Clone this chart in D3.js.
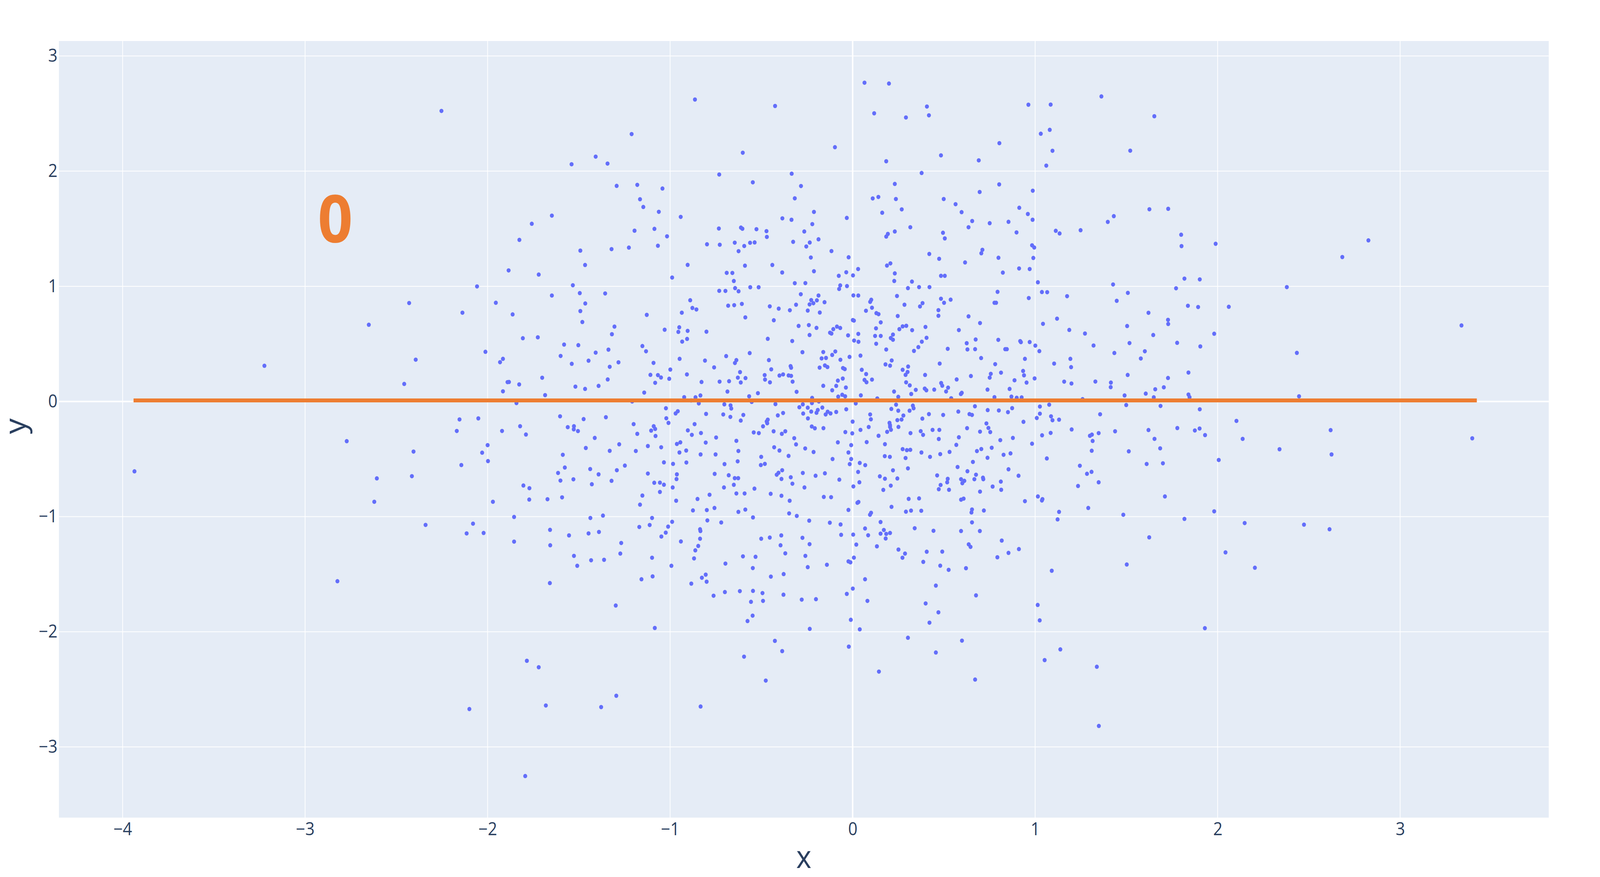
<!DOCTYPE html>
<html>
<head>
<meta charset="utf-8">
<script src="https://cdn.jsdelivr.net/npm/d3@7"></script>
<style>
  html, body { margin: 0; height: 100%; background: #fff; overflow: hidden; }
  #vis, svg { display: block; width: 100%; height: 100%; }
  text { font-family: "Open Sans", sans-serif; }
</style>
</head>
<body>
<div id="vis"></div>
<script>
const xTicks = [-4, -3, -2, -1, 0, 1, 2, 3]
const yTicks = [-3, -2, -1, 0, 1, 2, 3]
const xRange = [-4.349, 3.814]
const yRange = [-3.614, 3.130]

const lineX = [-3.94, 3.42]
const lineY = [0.009, 0.009]
const frameLabel = { text: "0", x: -2.835, y: 1.604 }

// scatter values, [x, y], grouped by region
const topLeft = [[-0.864,2.622],[-0.425,2.566],[0.065,2.768],[-1.211,2.322],[-0.602,2.160],[-0.097,2.208],[-1.408,2.126],[-1.540,2.060],[-1.343,2.066],[-0.731,1.971],[-0.334,1.978],[-0.547,1.903],[-1.293,1.872],[-1.180,1.881],[-1.042,1.849],[-0.283,1.871],[-1.165,1.756],[-1.147,1.689],[-0.317,1.764],[-1.062,1.647],[-1.648,1.614],[-1.758,1.543],[-0.942,1.603],[-0.212,1.646],[-0.385,1.590],[-0.335,1.578],[-0.032,1.594],[-0.221,1.540]]

const topRight = [[0.118,2.502],[0.110,1.763],[0.199,2.761],[0.407,2.561],[0.292,2.466],[0.418,2.485],[0.963,2.577],[1.085,2.578],[1.363,2.649],[1.653,2.477],[1.080,2.359],[1.031,2.325],[0.804,2.243],[1.095,2.177],[1.521,2.178],[0.484,2.137],[0.691,2.094],[0.184,2.086],[1.061,2.048],[0.378,1.984],[0.231,1.889],[0.803,1.885],[0.987,1.830],[0.696,1.819],[0.141,1.776],[0.237,1.758],[0.499,1.758],[0.564,1.713],[0.913,1.682],[0.960,1.628],[0.986,1.578],[0.597,1.644],[0.269,1.668],[0.162,1.639],[0.655,1.567],[0.751,1.548],[0.854,1.560],[1.431,1.609],[1.398,1.559],[1.626,1.669],[1.729,1.673]]

const midLeft = [[-1.826,1.403],[-1.195,1.483],[-1.086,1.499],[-1.017,1.434],[-0.733,1.502],[-0.612,1.510],[-0.604,1.500],[-0.527,1.496],[-0.472,1.479],[-0.470,1.429],[-0.265,1.476],[-1.492,1.310],[-1.321,1.323],[-1.226,1.336],[-1.067,1.352],[-0.798,1.365],[-0.728,1.361],[-0.646,1.379],[-0.594,1.350],[-0.562,1.378],[-0.537,1.381],[-0.625,1.305],[-0.326,1.386],[-0.235,1.380],[-0.187,1.408],[-0.254,1.346],[-0.116,1.306],[-0.229,1.250],[-0.022,1.252],[-1.466,1.185],[-0.904,1.186],[-0.590,1.179],[-0.440,1.185],[-1.720,1.102],[-1.885,1.138],[-0.989,1.076],[-0.690,1.117],[-0.659,1.116],[-0.386,1.120],[-0.212,1.131],[-0.076,1.091],[-0.035,1.122],[0.002,1.095],[0.030,1.150],[-0.651,1.046],[-0.317,1.027],[-0.259,1.028],[-0.068,1.008],[-0.031,1.002],[-0.074,0.977],[-1.533,1.009],[-0.644,0.984],[-0.561,0.992],[-0.515,0.992],[-0.731,0.961],[-0.697,0.960],[-0.625,0.957],[-1.495,0.941],[-1.356,0.938],[-1.648,0.920],[-0.284,0.931],[-0.187,0.920],[0.004,0.921],[0.031,0.920],[-0.890,0.879],[-0.227,0.880],[-0.196,0.878],[-0.215,0.853],[-0.236,0.843],[-0.154,0.862],[0.102,0.883],[0.096,0.865],[0.106,0.814],[0.073,0.788],[-1.465,0.851],[-0.682,0.832],[-0.649,0.836],[-0.607,0.847],[-0.454,0.826],[-0.405,0.806],[-0.310,0.840],[-0.344,0.792],[-0.246,0.789],[-0.180,0.772],[-0.878,0.812],[-0.856,0.799],[-0.936,0.771],[-1.492,0.785],[-1.863,0.756],[-1.128,0.752],[-0.588,0.730],[-0.432,0.705],[0.001,0.707],[0.007,0.702],[-1.481,0.690],[-1.305,0.650],[-0.950,0.644],[-1.030,0.623],[-0.904,0.613],[-0.955,0.604],[-0.801,0.606],[-0.296,0.656],[-0.240,0.663],[-0.198,0.639],[-0.106,0.628],[-0.086,0.650],[-0.068,0.638],[-0.124,0.597],[-0.116,0.590],[-1.319,0.584],[-1.807,0.549],[-1.725,0.557],[-0.907,0.543],[-0.934,0.520],[-0.465,0.544],[-0.331,0.525],[-0.236,0.577],[-0.025,0.574],[0.031,0.587],[0.008,0.529],[0.032,0.518],[-1.581,0.494],[-1.503,0.489],[-1.152,0.481],[-1.132,0.436],[-1.338,0.450],[-1.408,0.424],[-1.600,0.395],[-0.275,0.428],[-0.161,0.429],[-0.095,0.434],[-0.112,0.404],[-0.564,0.420],[-0.693,0.394],[-0.017,0.387],[0.043,0.398],[-0.170,0.374],[-0.146,0.378],[-0.067,0.362],[-0.948,0.370],[-0.809,0.355],[-0.637,0.359],[-0.645,0.334],[-0.459,0.359],[-1.447,0.354],[-1.539,0.327],[-1.283,0.340],[-1.091,0.335],[-1.331,0.301],[-0.759,0.296],[-0.340,0.307],[-0.337,0.293],[-0.181,0.294],[-0.152,0.313],[-0.138,0.299],[-0.053,0.290],[-0.043,0.281],[-0.446,0.279],[-0.999,0.277],[0.050,0.275],[-0.617,0.255],[-1.108,0.231],[-1.067,0.229],[-1.050,0.208],[-1.005,0.197],[-0.908,0.235],[-0.482,0.229],[-0.401,0.225],[-0.381,0.235],[-0.351,0.226],[-0.337,0.222],[0.074,0.238],[-1.701,0.206],[-1.342,0.191],[-0.629,0.207],[-0.587,0.203],[-0.480,0.190],[-0.054,0.199],[-0.081,0.181],[0.065,0.187],[0.076,0.167],[0.106,0.190],[-1.883,0.169],[-1.827,0.148],[-1.082,0.162],[-0.828,0.169],[-0.729,0.172],[-0.677,0.176],[-0.613,0.165],[-0.453,0.166],[-0.329,0.172],[-1.519,0.129],[-1.466,0.109],[-1.392,0.135],[-0.161,0.136],[-0.090,0.135],[-0.037,0.121],[-0.112,0.097],[-1.142,0.077],[-0.686,0.086],[-0.519,0.072],[-0.307,0.084],[-1.685,0.055],[-0.834,0.052],[-0.923,0.037],[-0.861,0.036],[-0.567,0.045],[-0.222,0.031],[-0.079,0.042],[-0.057,0.058],[-0.041,0.045],[0.045,0.053],[-1.208,0.000],[-0.885,0.009],[-0.553,-0.004],[-0.185,0.000]]

const midRight = [[0.316,1.513],[0.635,1.513],[0.231,1.476],[0.193,1.455],[0.184,1.432],[0.495,1.465],[0.505,1.416],[0.898,1.468],[1.113,1.482],[1.134,1.459],[1.249,1.487],[1.800,1.448],[1.802,1.349],[1.989,1.369],[0.983,1.356],[0.995,1.337],[0.711,1.317],[0.705,1.287],[0.420,1.281],[0.474,1.239],[0.799,1.248],[0.990,1.246],[0.207,1.199],[0.188,1.180],[0.616,1.207],[0.231,1.112],[0.484,1.091],[0.505,1.091],[0.823,1.119],[0.912,1.155],[0.970,1.150],[0.228,1.046],[0.325,1.041],[1.015,1.035],[0.303,0.984],[0.364,0.993],[0.421,0.993],[1.427,1.016],[1.818,1.067],[1.902,1.060],[1.772,0.983],[0.243,0.916],[0.794,0.952],[1.037,0.950],[1.066,0.949],[1.508,0.943],[1.175,0.914],[0.965,0.898],[0.484,0.892],[0.537,0.884],[0.501,0.857],[0.383,0.854],[0.284,0.840],[0.369,0.825],[0.777,0.857],[0.786,0.857],[1.447,0.874],[1.837,0.831],[1.893,0.820],[2.061,0.822],[0.470,0.793],[0.470,0.744],[0.130,0.767],[0.142,0.758],[0.247,0.742],[0.635,0.739],[1.621,0.770],[1.120,0.719],[1.728,0.709],[1.729,0.673],[0.154,0.687],[0.698,0.681],[1.043,0.674],[0.274,0.652],[0.294,0.657],[0.399,0.647],[1.504,0.655],[0.128,0.635],[0.256,0.628],[0.326,0.619],[0.582,0.620],[1.187,0.621],[1.273,0.590],[1.981,0.588],[1.647,0.577],[0.221,0.581],[0.123,0.569],[0.154,0.569],[0.405,0.553],[0.209,0.551],[0.221,0.536],[0.379,0.519],[0.674,0.538],[0.798,0.535],[0.625,0.506],[0.918,0.524],[0.922,0.515],[0.970,0.516],[1.517,0.507],[1.778,0.509],[0.129,0.501],[1.001,0.485],[1.320,0.486],[1.905,0.478],[0.360,0.472],[0.184,0.451],[0.336,0.439],[0.521,0.457],[0.629,0.452],[0.671,0.454],[0.836,0.454],[0.845,0.454],[1.023,0.437],[1.434,0.421],[1.601,0.436],[0.704,0.377],[0.944,0.370],[1.193,0.370],[1.579,0.373],[0.214,0.356],[0.180,0.322],[0.205,0.311],[0.304,0.303],[0.477,0.329],[0.781,0.324],[1.104,0.329],[1.197,0.298],[0.274,0.275],[0.301,0.256],[0.290,0.231],[0.397,0.230],[0.757,0.240],[0.813,0.250],[0.934,0.265],[0.939,0.227],[1.507,0.230],[1.840,0.251],[0.648,0.221],[0.751,0.207],[0.997,0.200],[0.570,0.191],[0.887,0.184],[1.728,0.204],[0.293,0.166],[0.485,0.160],[0.313,0.140],[0.491,0.137],[0.953,0.164],[1.159,0.172],[1.199,0.156],[1.330,0.173],[1.415,0.164],[1.414,0.124],[0.523,0.120],[0.346,0.101],[0.395,0.112],[0.404,0.097],[0.447,0.103],[0.739,0.103],[0.860,0.109],[1.658,0.106],[1.705,0.123],[0.227,0.086],[0.512,0.087],[0.598,0.075],[0.593,0.065],[0.321,0.065],[1.606,0.068],[1.490,0.052],[1.840,0.060],[1.846,0.037],[0.250,0.040],[0.135,0.026],[0.540,0.028],[0.777,0.037],[0.870,0.042],[0.899,0.032],[0.926,0.035],[1.260,0.020],[1.650,0.036]]

const lowLeft = [[-1.842,-0.014],[-0.843,-0.017],[-0.703,-0.025],[-0.669,-0.034],[-0.665,-0.061],[-0.423,-0.023],[-0.273,-0.025],[-0.223,-0.014],[0.017,-0.017],[-0.292,-0.050],[-0.246,-0.054],[-0.166,-0.053],[-1.023,-0.059],[-0.035,-0.068],[-0.958,-0.085],[-0.970,-0.104],[-0.191,-0.074],[-0.198,-0.098],[-0.227,-0.088],[-0.137,-0.089],[-0.148,-0.113],[-0.121,-0.104],[-0.090,-0.091],[-0.381,-0.100],[-0.410,-0.121],[-0.271,-0.105],[-0.803,-0.108],[-0.709,-0.113],[-0.599,-0.117],[-0.670,-0.134],[0.096,-0.113],[0.100,-0.155],[-1.603,-0.129],[-1.352,-0.137],[-1.474,-0.153],[-1.021,-0.146],[-0.245,-0.147],[-1.009,-0.186],[-0.613,-0.166],[-0.465,-0.158],[-0.471,-0.174],[-0.468,-0.189],[0.000,-0.175],[-1.200,-0.197],[-0.866,-0.197],[-1.822,-0.215],[-1.561,-0.223],[-1.527,-0.215],[-1.528,-0.242],[-1.505,-0.257],[-1.090,-0.215],[-1.082,-0.239],[-1.104,-0.253],[-0.491,-0.216],[-0.224,-0.217],[-0.207,-0.233],[-0.160,-0.232],[0.088,-0.222],[0.043,-0.247],[-0.903,-0.251],[-0.831,-0.274],[-0.881,-0.290],[-1.180,-0.281],[-1.080,-0.300],[-1.790,-0.287],[-0.542,-0.269],[-0.514,-0.275],[-0.433,-0.259],[-0.369,-0.259],[-0.388,-0.281],[-0.040,-0.266],[-0.002,-0.277],[-1.413,-0.317],[-0.748,-0.313],[-0.320,-0.319],[-0.637,-0.342],[-0.944,-0.355],[-0.963,-0.369],[-0.805,-0.357],[-0.081,-0.355],[0.077,-0.353],[-1.279,-0.372],[-0.310,-0.373],[-0.008,-0.379],[-1.122,-0.387],[-1.462,-0.404],[-1.049,-0.398],[-0.430,-0.398],[-0.260,-0.408],[-1.331,-0.429],[-1.188,-0.430],[-0.912,-0.426],[-0.949,-0.443],[-0.626,-0.430],[-0.401,-0.426],[-0.214,-0.439],[-0.023,-0.443],[-1.588,-0.463],[-0.833,-0.460],[-0.751,-0.460],[-0.501,-0.481],[-0.351,-0.473],[-0.110,-0.500],[-0.008,-0.500],[-1.034,-0.529],[-0.984,-0.542],[-0.911,-0.530],[-0.702,-0.544],[-0.630,-0.520],[-0.503,-0.552],[-0.481,-0.542],[-0.016,-0.544],[0.039,-0.534],[0.069,-0.553],[-1.248,-0.557],[-1.577,-0.574],[-1.438,-0.587],[-1.292,-0.597],[-1.614,-0.621],[-0.386,-0.597],[-0.406,-0.619],[-0.416,-0.636],[-1.122,-0.626],[-0.963,-0.633],[-0.756,-0.629],[-0.679,-0.641],[-1.392,-0.633],[-0.273,-0.621],[-0.152,-0.624],[-0.203,-0.645],[0.030,-0.612],[-0.646,-0.666],[-0.627,-0.666],[-0.390,-0.673],[-0.339,-0.658],[-0.965,-0.674],[-1.530,-0.676],[-1.601,-0.687],[-1.321,-0.689],[-0.073,-0.679],[0.037,-0.702],[-1.087,-0.706],[-1.056,-0.705],[-1.034,-0.723],[-1.429,-0.719],[-0.330,-0.714],[-0.651,-0.724],[-1.804,-0.730],[-1.771,-0.753],[-0.986,-0.747],[-0.705,-0.747],[-0.264,-0.747],[0.004,-0.738],[-0.538,-0.757],[-1.056,-0.786],[-0.637,-0.799],[-0.592,-0.799],[-0.449,-0.802],[-0.784,-0.810],[-0.390,-0.819],[-1.152,-0.817],[-0.158,-0.829],[-0.118,-0.831],[-1.592,-0.833],[-1.772,-0.852],[-1.672,-0.849],[-0.850,-0.847],[-0.967,-0.862],[-0.345,-0.862],[0.032,-0.873],[0.026,-0.880],[-1.165,-0.896],[-0.875,-0.946],[-0.799,-0.943],[-0.757,-0.925],[-0.588,-0.939],[-0.626,-0.959],[-0.023,-0.942],[-0.348,-0.972],[-0.306,-0.994],[0.101,-0.967],[0.095,-0.984],[-1.855,-1.003],[-1.368,-0.991],[-1.437,-1.012],[-1.099,-1.012],[-0.546,-1.007],[-0.989,-1.045],[-0.796,-1.033],[-0.720,-1.051],[-0.238,-1.035],[-0.125,-1.053],[-0.066,-1.068],[-1.112,-1.073],[-1.169,-1.090],[-1.011,-1.087],[0.068,-1.103],[-0.836,-1.110],[-0.834,-1.125],[-1.658,-1.115],[-1.390,-1.133],[-1.447,-1.146],[-1.554,-1.163],[-1.024,-1.139],[-1.048,-1.173],[-0.391,-1.163],[-0.063,-1.158],[0.003,-1.156],[0.085,-1.162],[-0.501,-1.192],[-0.454,-1.182],[-0.275,-1.184],[-0.836,-1.192],[-1.855,-1.217],[-0.941,-1.216],[-1.268,-1.229],[-1.657,-1.249],[-0.395,-1.249],[-0.236,-1.239],[0.020,-1.243],[-0.846,-1.255],[-0.862,-1.293],[-1.273,-1.321],[-0.369,-1.319],[-1.527,-1.341],[-0.259,-1.341],[-0.601,-1.345],[-0.532,-1.349],[0.007,-1.356],[-1.099,-1.357],[-0.869,-1.363],[-1.433,-1.379],[-1.362,-1.375],[-0.023,-1.389],[-0.012,-1.397],[-1.509,-1.427],[-0.993,-1.427],[-0.697,-1.408],[-0.141,-1.418],[-0.547,-1.447],[-0.246,-1.439],[-1.096,-1.519],[-0.805,-1.504],[-0.826,-1.531],[-1.157,-1.544],[-0.800,-1.565],[-0.884,-1.582],[-1.659,-1.577],[-0.378,-1.499],[-0.448,-1.521],[0.068,-1.544]]

const lowRight = [[0.238,-0.028],[0.330,-0.036],[0.334,-0.059],[0.670,-0.042],[1.026,-0.044],[1.077,-0.028],[1.499,-0.031],[1.687,-0.039],[1.902,-0.068],[0.212,-0.065],[0.250,-0.080],[0.312,-0.080],[0.874,-0.058],[0.740,-0.075],[0.801,-0.078],[0.851,-0.093],[0.579,-0.088],[1.026,-0.106],[0.418,-0.110],[0.496,-0.117],[0.640,-0.110],[0.654,-0.117],[1.356,-0.111],[0.278,-0.122],[1.087,-0.129],[0.382,-0.149],[1.009,-0.144],[1.095,-0.163],[1.131,-0.158],[0.245,-0.162],[0.268,-0.157],[0.936,-0.177],[2.103,-0.169],[0.202,-0.186],[0.733,-0.191],[0.205,-0.206],[0.205,-0.221],[0.251,-0.221],[0.627,-0.232],[0.744,-0.230],[1.200,-0.243],[1.621,-0.248],[1.779,-0.231],[1.875,-0.252],[1.901,-0.235],[0.210,-0.246],[0.189,-0.264],[0.438,-0.247],[0.475,-0.247],[0.373,-0.258],[0.698,-0.262],[0.754,-0.266],[1.438,-0.259],[0.317,-0.275],[0.386,-0.290],[1.085,-0.273],[1.038,-0.294],[1.348,-0.275],[1.311,-0.288],[1.300,-0.298],[1.931,-0.292],[0.142,-0.298],[0.582,-0.311],[0.472,-0.326],[0.878,-0.317],[0.809,-0.336],[1.654,-0.325],[1.315,-0.343],[0.177,-0.371],[0.568,-0.377],[0.983,-0.367],[0.274,-0.414],[0.297,-0.423],[0.316,-0.420],[0.762,-0.402],[0.705,-0.413],[0.681,-0.431],[1.685,-0.407],[1.310,-0.428],[1.513,-0.433],[0.531,-0.438],[0.377,-0.443],[0.480,-0.457],[0.865,-0.451],[0.827,-0.463],[0.176,-0.475],[0.204,-0.481],[0.424,-0.481],[0.290,-0.491],[0.739,-0.489],[1.064,-0.495],[0.659,-0.525],[2.006,-0.508],[1.611,-0.543],[1.700,-0.537],[1.245,-0.558],[0.575,-0.569],[0.303,-0.581],[0.854,-0.589],[0.221,-0.598],[0.629,-0.606],[1.309,-0.611],[1.284,-0.628],[0.676,-0.636],[0.463,-0.642],[0.909,-0.645],[0.149,-0.650],[0.177,-0.671],[0.245,-0.669],[0.521,-0.672],[0.594,-0.675],[0.612,-0.689],[0.667,-0.675],[0.714,-0.662],[0.716,-0.675],[0.518,-0.702],[0.601,-0.710],[0.812,-0.696],[1.348,-0.702],[0.482,-0.725],[0.209,-0.731],[1.235,-0.734],[0.767,-0.739],[0.472,-0.762],[0.528,-0.767],[0.814,-0.767],[0.168,-0.768],[0.698,-0.783],[0.307,-0.846],[0.364,-0.842],[0.594,-0.853],[0.608,-0.844],[1.015,-0.825],[1.040,-0.848],[1.037,-0.860],[0.944,-0.866],[1.711,-0.825],[0.213,-0.915],[0.292,-0.957],[0.320,-0.948],[0.376,-0.949],[0.654,-0.938],[0.651,-0.964],[0.719,-0.947],[1.131,-0.959],[1.291,-0.925],[1.981,-0.954],[1.483,-0.984],[1.123,-1.024],[1.818,-1.020],[0.153,-1.047],[0.654,-1.050],[0.340,-1.101],[0.171,-1.116],[0.153,-1.148],[0.184,-1.150],[0.205,-1.142],[0.443,-1.123],[0.594,-1.125],[0.697,-1.125],[1.625,-1.180],[0.181,-1.190],[0.817,-1.208],[0.636,-1.241],[0.646,-1.263],[0.133,-1.258],[0.251,-1.286],[0.911,-1.282],[0.287,-1.321],[0.406,-1.305],[0.491,-1.304],[0.854,-1.315],[2.043,-1.311],[0.273,-1.357],[0.793,-1.353],[0.387,-1.393],[1.502,-1.416],[0.480,-1.426],[0.526,-1.462],[0.621,-1.448],[1.091,-1.470],[0.456,-1.599]]

const bottomLeft = [[-0.700,-1.655],[-0.618,-1.647],[-0.546,-1.645],[-0.494,-1.664],[-0.762,-1.687],[-0.379,-1.678],[-0.557,-1.740],[-0.491,-1.732],[-0.279,-1.721],[-0.201,-1.717],[-0.032,-1.671],[0.001,-1.625],[0.081,-1.732],[-1.298,-1.772],[-0.548,-1.860],[-0.576,-1.907],[-0.010,-1.896],[-1.084,-1.967],[-0.235,-1.975],[0.039,-1.979],[-0.426,-2.079],[-0.021,-2.129],[-0.386,-2.168],[-0.595,-2.216],[-1.785,-2.252],[-1.720,-2.308],[-0.476,-2.424],[-1.295,-2.556],[-1.681,-2.640],[-1.378,-2.654],[-0.833,-2.649],[-1.794,-3.253]]

const bottomRight = [[0.676,-1.684],[0.400,-1.754],[1.014,-1.767],[0.470,-1.831],[1.025,-1.901],[0.421,-1.921],[1.930,-1.969],[0.303,-2.052],[0.599,-2.077],[1.138,-2.153],[0.456,-2.180],[1.052,-2.246],[1.338,-2.304],[0.144,-2.346],[0.671,-2.415],[1.349,-2.818]]

const farLeft = [[-2.651,0.666],[-2.138,0.771],[-3.223,0.310],[-2.012,0.431],[-2.394,0.363],[-1.916,0.370],[-1.932,0.341],[-1.891,0.168],[-2.457,0.152],[-1.916,0.088],[-2.154,-0.156],[-2.051,-0.147],[-2.169,-0.256],[-1.921,-0.256],[-2.772,-0.345],[-2.000,-0.379],[-2.030,-0.445],[-2.406,-0.435],[-1.998,-0.518],[-2.144,-0.552],[-2.607,-0.668],[-2.415,-0.649],[-2.621,-0.871],[-1.971,-0.871],[-2.340,-1.072],[-2.080,-1.061],[-2.115,-1.146],[-2.022,-1.142],[-2.823,-1.561],[-2.253,2.523],[-2.058,0.999],[-2.430,0.855],[-1.955,0.857],[-3.935,-0.607],[-2.100,-2.671]]

const farRight = [[2.826,1.399],[2.683,1.254],[2.379,0.993],[3.336,0.660],[2.434,0.422],[2.446,0.045],[2.619,-0.249],[3.395,-0.320],[2.624,-0.460],[2.339,-0.415],[2.137,-0.325],[2.473,-1.070],[2.613,-1.110],[2.148,-1.056],[2.204,-1.444]]

const points = [...topLeft, ...topRight, ...midLeft, ...midRight, ...lowLeft, ...lowRight, ...bottomLeft, ...bottomRight, ...farLeft, ...farRight]

const width = 4400, height = 2245
const margin = { left: 162, right: 141, top: 105, bottom: 152 }

const x = d3.scaleLinear().domain(xRange).range([margin.left, width - margin.right])
const y = d3.scaleLinear().domain(yRange).range([height - margin.bottom, margin.top])

const fmt = d => String(d).replace("-", "\u2212")
const tickColor = "#2a3f5f"

// the browser window comes out narrower than asked, so the drawing is fitted to whatever it gets
const svg = d3.select("#vis").append("svg")
  .attr("viewBox", `0 0 ${width} ${height}`)
  .attr("preserveAspectRatio", "none")

svg.append("rect")
  .attr("x", margin.left).attr("y", margin.top)
  .attr("width", x.range()[1] - x.range()[0])
  .attr("height", y.range()[0] - y.range()[1])
  .attr("fill", "#e5ecf6")

// grid, the zero lines are a bit heavier
svg.append("g").selectAll("line").data(xTicks).enter().append("line")
  .attr("x1", d => x(d)).attr("x2", d => x(d))
  .attr("y1", y.range()[0]).attr("y2", y.range()[1])
  .attr("stroke", "#fff").attr("stroke-width", d => d === 0 ? 4 : 2)

svg.append("g").selectAll("line").data(yTicks).enter().append("line")
  .attr("x1", x.range()[0]).attr("x2", x.range()[1])
  .attr("y1", d => y(d)).attr("y2", d => y(d))
  .attr("stroke", "#fff").attr("stroke-width", d => d === 0 ? 4 : 2)

// axes only for the labels
const xAxis = svg.append("g")
  .attr("transform", `translate(0,${height - margin.bottom})`)
  .call(d3.axisBottom(x).tickValues(xTicks).tickFormat(fmt).tickSize(0).tickPadding(13))
const yAxis = svg.append("g")
  .attr("transform", `translate(${margin.left},0)`)
  .call(d3.axisLeft(y).tickValues(yTicks).tickFormat(fmt).tickSize(0).tickPadding(4))

xAxis.select(".domain").remove()
yAxis.select(".domain").remove()
svg.selectAll(".tick text")
  .attr("fill", tickColor)
  .style("font-family", '"Open Sans", sans-serif')
  .style("font-size", "45px")

svg.append("g").selectAll("circle").data(points).enter().append("circle")
  .attr("cx", d => x(d[0]))
  .attr("cy", d => y(d[1]))
  .attr("r", 5.5)
  .attr("fill", "#636efa")

const line = d3.line().x(d => x(d[0])).y(d => y(d[1]))
svg.append("path")
  .attr("d", line(d3.zip(lineX, lineY)))
  .attr("fill", "none")
  .attr("stroke", "#ed7d31")
  .attr("stroke-width", 10)

svg.append("text")
  .attr("x", x(frameLabel.x)).attr("y", y(frameLabel.y))
  .attr("text-anchor", "middle").attr("dominant-baseline", "central")
  .attr("fill", "#ed7d31")
  .style("font-size", "168px").style("font-weight", 700)
  .text(frameLabel.text)

svg.append("text")
  .attr("x", (x.range()[0] + x.range()[1]) / 2).attr("y", 2222)
  .attr("text-anchor", "middle")
  .attr("fill", tickColor).style("font-size", "80px")
  .text("x")

svg.append("text")
  .attr("transform", `translate(70,${(y.range()[0] + y.range()[1]) / 2 - 8}) rotate(-90)`)
  .attr("text-anchor", "middle")
  .attr("fill", tickColor).style("font-size", "80px")
  .text("y")
</script>
</body>
</html>
